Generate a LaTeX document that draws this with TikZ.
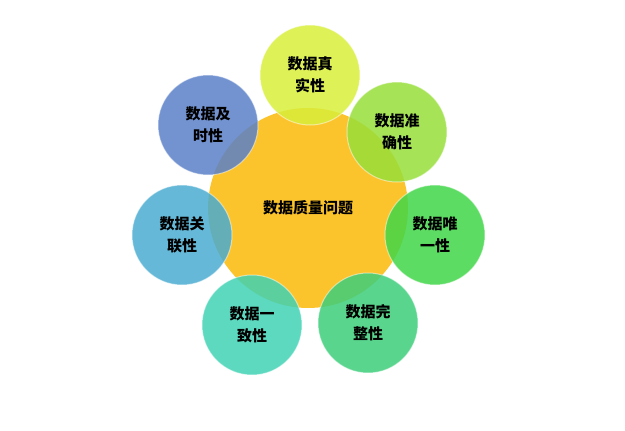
\documentclass[tikz,border=0pt]{standalone}
\usepackage{fontspec}
\newfontfamily\cjk{Noto Sans CJK SC}
\begin{document}
\begin{tikzpicture}[x=1pt,y=-1pt,
  sat/.style={circle,minimum size=100pt,inner sep=0pt,align=center,font=\cjk\bfseries\fontsize{15}{22}\selectfont,fill opacity=0.85,text opacity=1,draw=white,draw opacity=0.5,line width=1pt}]
\useasboundingbox (0,0) rectangle (625,431);
\node[circle,minimum size=200pt,fill={rgb,255:red,252;green,196;blue,44},font=\cjk\bfseries\fontsize{15}{20}\selectfont] (c) at (308,208) {数据质量问题};
\node[sat,fill={rgb,255:red,216;green,238;blue,58}] (a) at (310,75) {数据真\\实性};
\node[sat,fill={rgb,255:red,152;green,222;blue,58}] (b) at (397,132) {数据准\\确性};
\node[sat,fill={rgb,255:red,64;green,214;blue,72}] (d) at (435,235) {数据唯\\一性};
\node[sat,fill={rgb,255:red,60;green,206;blue,122}] (e) at (368,323) {数据完\\整性};
\node[sat,fill={rgb,255:red,64;green,210;blue,180}] (f) at (252,325) {数据一\\致性};
\node[sat,fill={rgb,255:red,74;green,172;blue,208}] (g) at (182,235) {数据关\\联性};
\node[sat,fill={rgb,255:red,90;green,128;blue,200}] (h) at (208,125) {数据及\\时性};
\end{tikzpicture}
\end{document}
